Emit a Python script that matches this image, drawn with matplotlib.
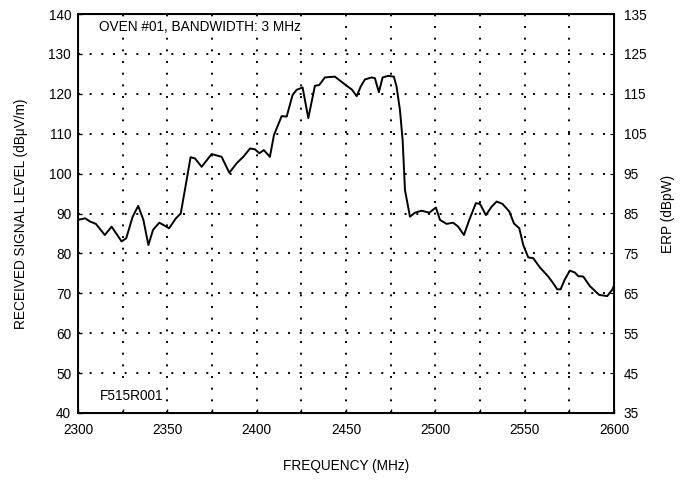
import matplotlib
matplotlib.use('Agg')
from matplotlib import pyplot as plt

plt.rcParams['font.family'] = ['Liberation Sans Narrow', 'Liberation Sans', 'DejaVu Sans']

# trace: frequency (MHz) vs received level (dBuV/m)
freq = [2300, 2304, 2306.7, 2310, 2315, 2318.8, 2324.4, 2327, 2330.6, 2333.7,
        2336.6, 2339.4, 2342, 2345.5, 2351, 2354.8, 2357.5, 2360.8, 2363, 2365.5,
        2369.2, 2374.8, 2380.4, 2384.7, 2388.8, 2392.5, 2396.3, 2399, 2401.5, 2404,
        2407.4, 2409.7, 2414, 2416.8, 2420.1, 2422.4, 2425.7, 2428.9, 2432.6, 2435,
        2438.2, 2443.8, 2450.4, 2453.2, 2456, 2458.2, 2460.6, 2464.3, 2466.2, 2468.4,
        2470.5, 2473.6, 2476.8, 2478.3, 2480.2, 2481.7, 2483, 2485.8, 2488.6, 2492.3,
        2496.6, 2500.3, 2502.6, 2506.3, 2510, 2512.8, 2516, 2519, 2522.7, 2525,
        2528.3, 2531.5, 2534.3, 2537.6, 2541.4, 2544, 2547, 2549.2, 2552, 2554.8,
        2558.5, 2563.2, 2566, 2568.2, 2570.1, 2572.5, 2575.3, 2578.1, 2580, 2582.8,
        2586.5, 2591.7, 2596.2, 2599.2, 2600]
level = [88.4, 88.8, 88.0, 87.4, 84.6, 86.7, 83.0, 83.8, 89.2, 91.9,
         88.4, 82.1, 85.9, 87.7, 86.3, 88.8, 90.0, 98.4, 104.1, 103.8,
         101.7, 104.9, 104.2, 100.2, 102.6, 104.2, 106.3, 106.1, 105.1, 105.9,
         104.2, 109.7, 114.4, 114.3, 119.7, 121.0, 121.6, 113.9, 122.0, 122.2,
         124.1, 124.3, 122.0, 121.1, 119.4, 121.8, 123.6, 124.1, 123.9, 120.4,
         124.1, 124.5, 124.3, 121.8, 115.9, 108.4, 95.9, 89.2, 90.2, 90.7,
         90.2, 91.5, 88.4, 87.4, 87.7, 86.7, 84.6, 88.4, 92.6, 92.4,
         89.6, 91.7, 93.0, 92.4, 90.5, 87.5, 86.3, 82.1, 79.0, 78.8,
         76.5, 74.2, 72.5, 71.0, 71.0, 73.5, 75.7, 75.2, 74.3, 74.2,
         71.8, 69.6, 69.3, 71.0, 72.0]

x_ticks = [2300, 2350, 2400, 2450, 2500, 2550, 2600]
y_ticks = list(range(40, 141, 10))
erp_ticks = list(range(35, 136, 10))

fs = 9.8
fig = plt.figure(figsize=(6.82, 4.82), dpi=100)
ax = fig.add_axes([78 / 682, 1 - 413 / 482, 536 / 682, 399 / 482])

ax.plot(freq, level, color='black', linewidth=1.4)

ax.set_xlim(2300, 2600)
ax.set_ylim(40, 140)
ax.set_xticks(x_ticks)
ax.set_xticks(range(2300, 2601, 25), minor=True)
ax.set_yticks(y_ticks)
ax.grid(True, which='both', color='black', linestyle=(0, (1, 5)), linewidth=1.4)
ax.tick_params(which='both', direction='in', length=3, labelsize=fs, width=1)
ax.tick_params(axis='x', pad=7)
ax.tick_params(axis='y', pad=5)
for sp in ax.spines.values():
    sp.set_linewidth(1.4)

ax.set_xlabel('FREQUENCY (MHz)', fontsize=fs, labelpad=16)
ax.set_ylabel('RECEIVED SIGNAL LEVEL (dB\u03bcV/m)', fontsize=fs)
ax.yaxis.set_label_coords(-0.094, 0.5)

ax2 = ax.twinx()
ax2.set_ylim(35, 135)
ax2.set_yticks(erp_ticks)
ax2.tick_params(direction='in', length=3, labelsize=fs, pad=7)
ax2.set_ylabel('ERP (dBpW)', fontsize=fs)
ax2.yaxis.set_label_coords(1.088, 0.5)

box = dict(facecolor='white', edgecolor='none', pad=1)
ax.text(2312, 136.8, 'OVEN #01, BANDWIDTH: 3 MHz', fontsize=fs, va='center', bbox=box)
ax.text(2312, 44.3, 'F515R001', fontsize=fs, va='center', bbox=box)

fig.savefig('out.png', dpi=100)
